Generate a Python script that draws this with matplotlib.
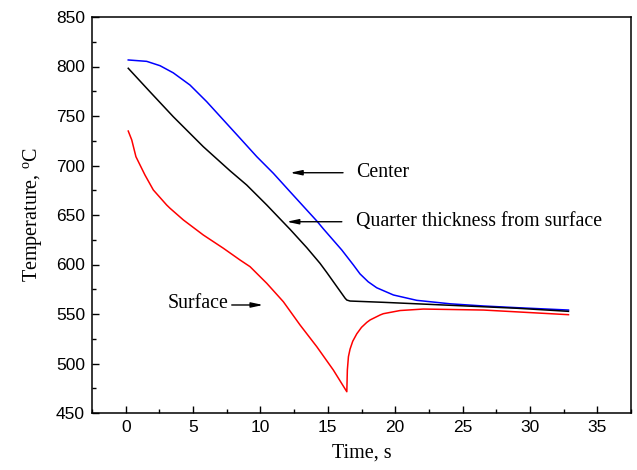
import matplotlib
matplotlib.use("Agg")
import matplotlib.pyplot as plt
from matplotlib.ticker import MultipleLocator

plt.rcParams['mathtext.fontset'] = 'custom'
plt.rcParams['mathtext.rm'] = 'Liberation Serif'

# Center (blue)
center_t = [0.19, 1.56, 2.55, 3.53, 4.77, 6.01, 7.25, 8.49, 9.73, 10.96, 12.2, 13.44, 14.18,
            14.67, 16.04, 16.9, 17.39, 18.0, 18.63, 19.87, 21.6, 24.08, 26.55, 29.03, 32.86]
center_T = [806.6, 805.2, 800.8, 793.6, 781.3, 764.5, 746.0, 727.5, 708.9, 692.1, 673.5, 655.0, 644.0,
            636.0, 614.6, 599.5, 590.5, 582.5, 576.5, 569.2, 563.8, 560.3, 558.1, 556.4, 554.0]

# Quarter thickness from surface (black)
quarter_t = [0.19, 1.8, 3.53, 5.76, 7.74, 8.98, 10.47, 11.46, 12.2, 13.44, 14.42, 14.92,
             16.28, 16.41, 16.65, 19.12, 24.08, 29.03, 32.86]
quarter_T = [798.2, 774.5, 749.3, 719.0, 694.7, 680.3, 660.1, 646.0, 635.5, 617.0, 601.2, 592.0,
             566.0, 564.1, 563.1, 561.8, 558.8, 555.8, 552.7]

# Surface (red)
surface_t = [0.19, 0.45, 0.76, 1.43, 2.05, 3.04, 3.29, 4.28, 5.76, 7.25, 8.49, 9.23, 10.1, 10.47,
             11.7, 12.94, 14.18, 15.41, 16.41, 16.45, 16.53, 16.65, 16.85, 17.15, 17.5, 17.89,
             18.14, 18.88, 19.12, 20.36, 22.09, 26.55, 32.86]
surface_T = [734.8, 725.8, 708.9, 690.4, 675.3, 660.1, 656.8, 645.0, 629.8, 616.4, 604.5, 597.8, 586.0, 581.0,
             562.4, 538.9, 517.0, 493.4, 471.5, 493.4, 506.9, 514.5, 522.5, 530.0, 536.5, 541.5,
             544.0, 549.0, 550.3, 553.5, 555.0, 554.0, 549.3]

fig = plt.figure(figsize=(6.37, 4.70), dpi=100)
ax = fig.add_axes([92/637, 1-413/470, (631-92)/637, (413-17)/470])

ax.plot(center_t, center_T, color='#0000ff', lw=1.1)
ax.plot(quarter_t, quarter_T, color='black', lw=1.1)
ax.plot(surface_t, surface_T, color='#ff0000', lw=1.1)

ax.set_xlim(-2.5, 37.5)
ax.set_ylim(450, 850)
ax.xaxis.set_major_locator(MultipleLocator(5))
ax.xaxis.set_minor_locator(MultipleLocator(2.5))
ax.yaxis.set_major_locator(MultipleLocator(50))
ax.yaxis.set_minor_locator(MultipleLocator(25))
ax.tick_params(which='both', direction='in', top=False, right=False, width=1.0)
ax.tick_params(which='major', length=5, labelsize=12.5, pad=5)
ax.tick_params(which='minor', length=3)
for lab in ax.get_xticklabels() + ax.get_yticklabels():
    lab.set_fontfamily('Liberation Sans')
for s in ax.spines.values():
    s.set_linewidth(1.1)

serif = 'Liberation Serif'
ax.set_xlabel('Time, s', fontfamily=serif, fontsize=14.5, labelpad=6)
ax.set_ylabel('Temperature, $^{\\mathrm{o}}$C', fontfamily=serif, fontsize=14.5, labelpad=8)

arrow = dict(arrowstyle='-|>,head_length=0.7,head_width=0.15', color='black', lw=1.0,
             shrinkA=0, shrinkB=0)
ax.annotate('', xy=(12.2, 692.7), xytext=(16.13, 692.7), arrowprops=arrow)
ax.text(17.1, 692.7, 'Center', fontfamily=serif, fontsize=14.3, va='center', ha='left')
ax.annotate('', xy=(11.95, 643.2), xytext=(16.04, 643.2), arrowprops=arrow)
ax.text(17.1, 643.2, 'Quarter thickness from surface', fontfamily=serif, fontsize=14.3,
        va='center', ha='left')
ax.annotate('', xy=(10.2, 559.1), xytext=(7.87, 559.1), arrowprops=arrow)
ax.text(7.6, 560.5, 'Surface', fontfamily=serif, fontsize=14.3, va='center', ha='right')

fig.savefig('out.png', dpi=100)
